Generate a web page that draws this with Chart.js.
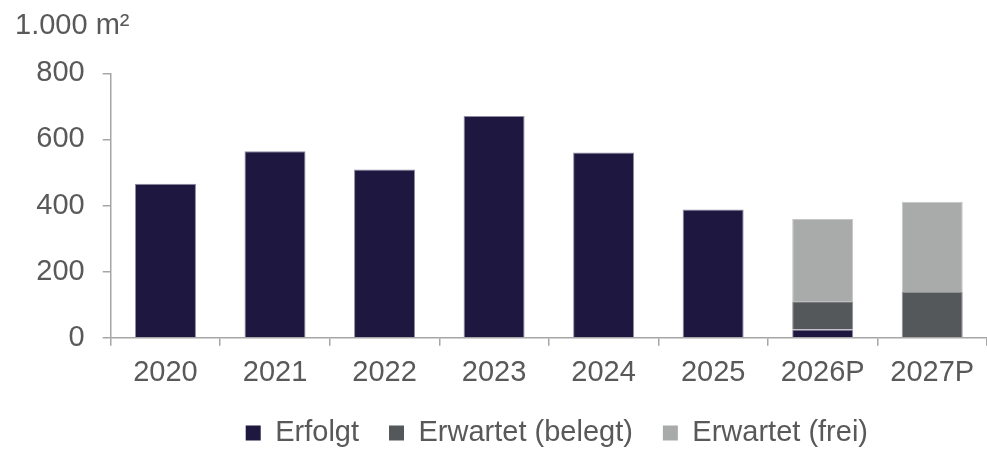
<!DOCTYPE html>
<html>
<head>
<meta charset="utf-8">
<script src="https://cdn.jsdelivr.net/npm/chart.js@4"></script>
<style>
    html, body { margin: 0; padding: 0; background: #fff; }
    #chart { display: block; }
</style>
</head>
<body>
<canvas id="chart" width="987" height="454"></canvas>
<script>
const categories = ['2020', '2021', '2022', '2023', '2024', '2025', '2026P', '2027P'];
const erfolgt = [466, 564, 509, 671, 560, 388, 25, null];
const erwartetBelegt = [null, null, null, null, null, null, 85, 138];
const erwartetFrei = [null, null, null, null, null, null, 249, 273];
const yTicks = [0, 200, 400, 600, 800];
const unitLabel = '1.000 m²';

const fontFamily = '"Liberation Sans", Arial, sans-serif';
const fontSize = 29;
const textColor = '#595959';
const axisColor = '#a6a6a6';

// Unit label above the y axis
const unitTitle = {
    id: 'unitTitle',
    afterDraw(chart) {
        const ctx = chart.ctx;
        ctx.save();
        ctx.font = fontSize + 'px ' + fontFamily;
        ctx.fillStyle = textColor;
        ctx.textAlign = 'left';
        ctx.textBaseline = 'alphabetic';
        ctx.fillText(unitLabel, 15, 33.5);
        ctx.restore();
    }
};

// Legend in the reference sits a bit right of the plot centre
const legendShift = {
    id: 'legendShift',
    afterLayout(chart) {
        if (chart.legend) {
            chart.legend.left += 8;
            chart.legend.right += 8;
        }
    }
};

const chart = new Chart(document.getElementById('chart'), {
    type: 'bar',
    data: {
        labels: categories,
        datasets: [
            { label: 'Erfolgt', data: erfolgt, backgroundColor: '#1e1840', borderColor: '#8f8ba3', borderWidth: 1 },
            { label: 'Erwartet (belegt)', data: erwartetBelegt, backgroundColor: '#54585a', borderColor: '#8e9092', borderWidth: 1 },
            { label: 'Erwartet (frei)', data: erwartetFrei, backgroundColor: '#a9aaaa', borderColor: '#c6c6c6', borderWidth: 1 }
        ]
    },
    options: {
        responsive: false,
        animation: false,
        barPercentage: 0.557,
        categoryPercentage: 1,
        layout: { padding: { top: 73.3, left: 0, right: 0, bottom: -3.5 } },
        plugins: {
            tooltip: { enabled: false },
            legend: {
                position: 'bottom',
                fullSize: false,
                labels: {
                    boxWidth: 15,
                    boxHeight: 15,
                    padding: 30,
                    color: textColor,
                    font: { family: fontFamily, size: fontSize },
                    generateLabels(c) {
                        return Chart.defaults.plugins.legend.labels.generateLabels(c)
                            .map(l => ({ ...l, lineWidth: 0, strokeStyle: l.fillStyle }));
                    }
                }
            }
        },
        scales: {
            x: {
                stacked: true,
                afterFit(scale) { scale.height = 50.8; },
                border: { display: true, color: axisColor, width: 1.5 },
                grid: { offset: true, drawOnChartArea: false, drawTicks: true, tickLength: 8, color: axisColor, lineWidth: 1.5 },
                ticks: { color: textColor, padding: 9.5, font: { family: fontFamily, size: fontSize }, maxRotation: 0 }
            },
            y: {
                stacked: true,
                min: 0,
                max: 800,
                afterFit(scale) { scale.width = 110.7; },
                afterBuildTicks(scale) { scale.ticks = yTicks.map(v => ({ value: v })); },
                border: { display: true, color: axisColor, width: 1.5 },
                grid: { drawOnChartArea: false, drawTicks: true, tickLength: 8, color: axisColor, lineWidth: 1.5 },
                ticks: { color: textColor, padding: 18, font: { family: fontFamily, size: fontSize } }
            }
        }
    },
    plugins: [unitTitle, legendShift]
});
</script>
</body>
</html>
